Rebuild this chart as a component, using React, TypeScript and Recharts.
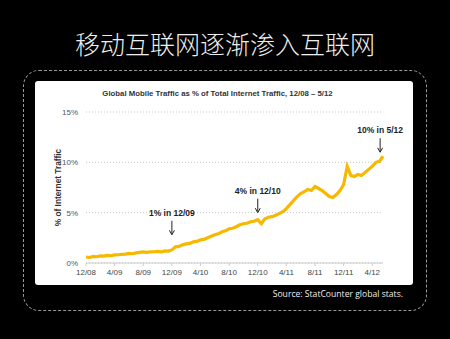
import { LineChart, Line, XAxis, YAxis, CartesianGrid, ReferenceDot } from 'recharts'

// months since 12/08, half-month steps
const STEP = 0.5
const TRAFFIC = [
  0.6, 0.55, 0.65, 0.62, 0.7, 0.68, 0.75, 0.72, 0.8, 0.82,
  0.85, 0.88, 0.95, 0.92, 1.0, 1.05, 1.1, 1.05, 1.1, 1.12,
  1.15, 1.1, 1.2, 1.18, 1.3, 1.6, 1.65, 1.8, 1.9, 1.95,
  2.1, 2.15, 2.3, 2.35, 2.5, 2.65, 2.8, 2.9, 3.1, 3.2,
  3.4, 3.45, 3.6, 3.8, 3.9, 3.95, 4.1, 4.15, 4.3, 3.9,
  4.4, 4.55, 4.6, 4.75, 4.9, 5.1, 5.4, 5.8, 6.2, 6.6,
  6.9, 7.1, 7.3, 7.2, 7.6, 7.4, 7.2, 6.9, 6.6, 6.5,
  6.8, 7.2, 7.8, 9.6, 8.7, 8.6, 8.8, 8.7, 9.0, 9.3,
  9.6, 10.0, 10.1, 10.6,
]
const TICK_MONTHS = [0, 4, 8, 12, 16, 20, 24, 28, 32, 36, 40]
const TICK_LABELS = ['12/08', '4/09', '8/09', '12/09', '4/10', '8/10', '12/10', '4/11', '8/11', '12/11', '4/12']
const Y_TICKS = [0, 5, 10, 15]

const NOTES = [
  { m: 12, v: 2.8, text: '1% in 12/09' },
  { m: 24, v: 5.0, text: '4% in 12/10' },
  { m: 41.1, v: 11.0, text: '10% in 5/12' },
]

const data = TRAFFIC.map((v, i) => ({ m: i * STEP, v }))

const FONT = '"Liberation Sans", Arial, sans-serif'

function Arrow(props: any) {
  const { cx, cy, text } = props
  return (
    <g>
      <line x1={cx} y1={cy - 14} x2={cx} y2={cy - 1} stroke="#222" strokeWidth={1} />
      <path d={`M${cx - 2.5},${cy - 4.5} L${cx},${cy} L${cx + 2.5},${cy - 4.5}`} fill="none" stroke="#222" strokeWidth={1} />
      <text x={cx} y={cy - 19} textAnchor="middle" fontFamily={FONT} fontWeight="bold" fontSize={8.5} fill="#222">
        {text}
      </text>
    </g>
  )
}

export default function App() {
  return (
    <div style={{ position: 'absolute', left: 0, top: 0, width: 450, height: 339, background: '#000', overflow: 'hidden' }}>
      <div style={{ position: 'absolute', left: 0, top: 29, width: 450, textAlign: 'center', color: '#eee', fontFamily: '"Noto Sans CJK SC", sans-serif', fontSize: 25, lineHeight: '28px', fontWeight: 300 }}>
        移动互联网逐渐渗入互联网
      </div>
      <div style={{ position: 'absolute', left: 23, top: 70, width: 404, height: 241, border: '1px dashed #999', borderRadius: 16, boxSizing: 'border-box' }} />
      <div style={{ position: 'absolute', left: 35, top: 81, width: 378, height: 204, background: '#fff', borderRadius: 3 }}>
        <div style={{ position: 'absolute', left: 0, top: 8, width: 365, textAlign: 'center', fontFamily: FONT, fontWeight: 'bold', fontSize: 7.8, color: '#333' }}>
          Global Mobile Traffic as % of Total Internet Traffic, 12/08 – 5/12
        </div>
        <div style={{ position: 'absolute', left: 0, top: 0 }}>
          <LineChart width={378} height={204} data={data} margin={{ top: 31, right: 30, bottom: 0, left: 14 }}>
            <CartesianGrid vertical={false} stroke="#c8c8c8" strokeDasharray="1 2" />
            <XAxis
              dataKey="m"
              type="number"
              domain={[0, 41.5]}
              ticks={TICK_MONTHS}
              tickFormatter={(v) => TICK_LABELS[TICK_MONTHS.indexOf(v)]}
              tick={{ fontSize: 8, fill: '#444', fontFamily: FONT }}
              stroke="#ccc"
              tickSize={3}
              tickMargin={3}
              height={22}
            />
            <YAxis
              type="number"
              domain={[0, 15]}
              ticks={Y_TICKS}
              tickFormatter={(v) => v + '%'}
              tick={{ fontSize: 8, fill: '#555', fontFamily: FONT }}
              axisLine={false}
              tickLine={false}
              width={37}
              label={{ value: '% of Internet Traffic', angle: -90, position: 'insideLeft', offset: 9, style: { textAnchor: 'middle', fontSize: 8.3, fontWeight: 'bold', fill: '#333', fontFamily: FONT } }}
            />
            <Line type="linear" dataKey="v" stroke="#f7b800" strokeWidth={3.2} dot={false} isAnimationActive={false} />
            {NOTES.map((n) => (
              <ReferenceDot key={n.text} x={n.m} y={n.v} r={0} shape={(p: any) => <Arrow {...p} text={n.text} />} />
            ))}
          </LineChart>
        </div>
      </div>
      <div style={{ position: 'absolute', right: 47, top: 288, color: '#eee', fontFamily: '"Open Sans", sans-serif', fontSize: 8.6, whiteSpace: 'nowrap' }}>
        Source: StatCounter global stats.
      </div>
    </div>
  )
}
